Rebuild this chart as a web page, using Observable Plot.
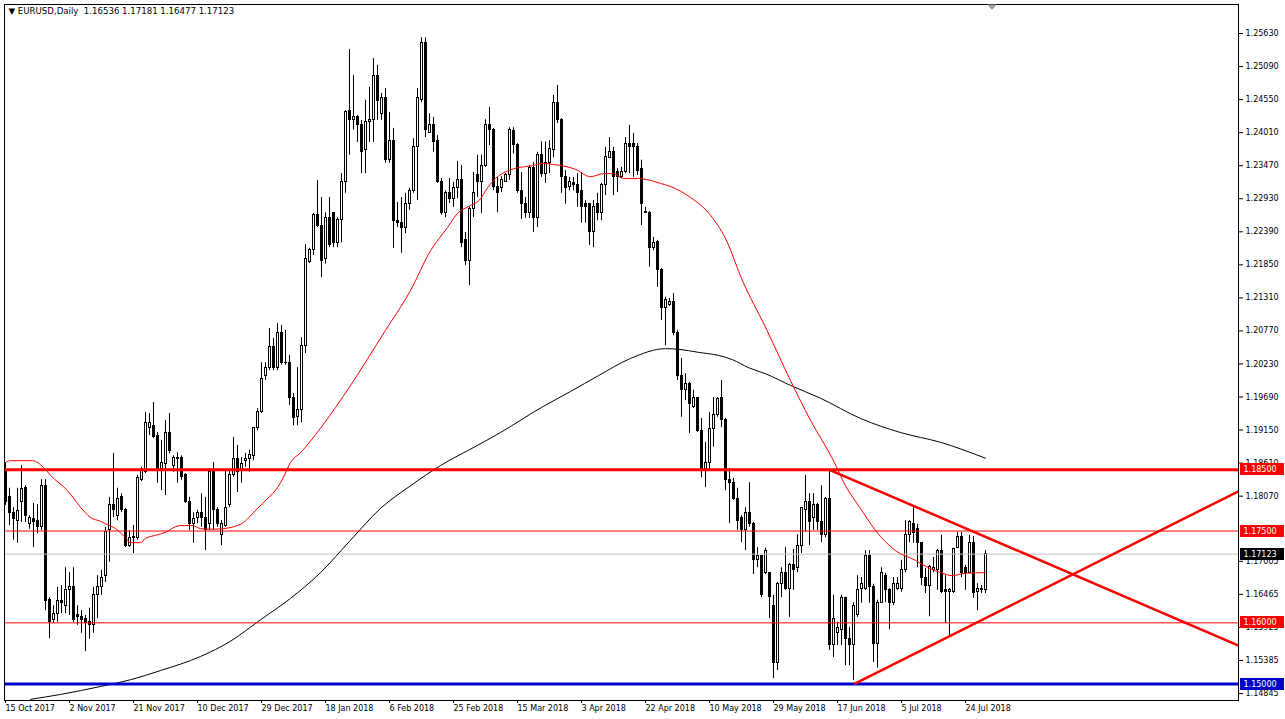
<!DOCTYPE html>
<html><head><meta charset="utf-8">
<script src="https://cdn.jsdelivr.net/npm/d3@7"></script>
<script src="https://cdn.jsdelivr.net/npm/@observablehq/plot@0.6"></script>
<style>
html,body{margin:0;padding:0;background:#fff;}
#chart{width:1285px;height:719px;overflow:hidden;}
</style></head><body><div id="chart"></div>
<script>
// ---- Data: EURUSD Daily OHLC (one bar per trading day) ----
const opens = [1.1849,1.1805,1.1779,1.1767,1.1798,1.1820,1.1762,1.1769,1.1766,1.1756,
1.1824,1.1638,1.1604,1.1614,1.1635,1.1628,1.1654,1.1658,1.1612,1.1609,
1.1607,1.1601,1.1596,1.1645,1.1659,1.1677,1.1751,1.1792,1.1775,1.1805,
1.1784,1.1726,1.1738,1.1739,1.1833,1.1846,1.1919,1.1922,1.1905,1.1852,
1.1860,1.1911,1.1857,1.1868,1.1870,1.1841,1.1797,1.1762,1.1771,1.1779,
1.1772,1.1762,1.1846,1.1784,1.1743,1.1759,1.1792,1.1841,1.1867,1.1849,
1.1864,1.1867,1.1873,1.1918,1.1944,1.2003,1.2017,1.2050,1.2017,1.2073,
1.2025,1.2025,1.1968,1.1936,1.1947,1.2053,1.2190,1.2210,1.2266,1.2249,
1.2195,1.2262,1.2269,1.2221,1.2259,1.2320,1.2436,1.2421,1.2426,1.2413,
1.2372,1.2419,1.2421,1.2493,1.2432,1.2458,1.2356,1.2387,1.2257,1.2253,
1.2246,1.2285,1.2305,1.2377,1.2454,1.2548,1.2400,1.2414,1.2387,1.2321,
1.2270,1.2302,1.2293,1.2311,1.2323,1.2225,1.2192,1.2277,1.2331,1.2320,
1.2346,1.2414,1.2406,1.2313,1.2311,1.2321,1.2331,1.2403,1.2380,1.2306,
1.2285,1.2269,1.2344,1.2262,1.2364,1.2334,1.2351,1.2372,1.2450,1.2421,
1.2328,1.2313,1.2318,1.2316,1.2305,1.2284,1.2284,1.2239,1.2284,1.2270,
1.2315,1.2360,1.2369,1.2336,1.2329,1.2336,1.2382,1.2382,1.2377,1.2341,
1.2272,1.2270,1.2213,1.2222,1.2176,1.2114,1.2120,1.2125,1.2074,1.2004,
1.1980,1.1991,1.1953,1.1967,1.1914,1.1852,1.1862,1.1917,1.1939,1.1967,
1.1932,1.1833,1.1828,1.1803,1.1771,1.1751,1.1780,1.1762,1.1703,1.1709,
1.1682,1.1681,1.1628,1.1534,1.1664,1.1681,1.1656,1.1694,1.1690,1.1725,
1.1785,1.1797,1.1772,1.1792,1.1764,1.1744,1.1803,1.1563,1.1584,1.1588,
1.1640,1.1574,1.1564,1.1612,1.1656,1.1656,1.1710,1.1659,1.1566,1.1633,
1.1677,1.1653,1.1632,1.1656,1.1656,1.1686,1.1743,1.1762,1.1753,1.1730,
1.1674,1.1661,1.1686,1.1686,1.1717,1.1653,1.1650,1.1650,1.1723,1.1741,
1.1689,1.1682,1.1731,1.1650,1.1653,1.16536];
const highs = [1.1862,1.1820,1.1788,1.1820,1.1857,1.1824,1.1775,1.1795,1.1793,1.1834,
1.1834,1.1641,1.1628,1.1658,1.1661,1.1690,1.1682,1.1690,1.1628,1.1620,
1.1612,1.1624,1.1658,1.1677,1.1686,1.1756,1.1805,1.1877,1.1820,1.1811,
1.1787,1.1751,1.1759,1.1841,1.1854,1.1944,1.1942,1.1960,1.1911,1.1898,
1.1931,1.1942,1.1873,1.1878,1.1873,1.1844,1.1805,1.1780,1.1784,1.1811,
1.1805,1.1852,1.1862,1.1788,1.1767,1.1849,1.1849,1.1903,1.1890,1.1870,
1.1877,1.1882,1.1919,1.1950,1.2025,1.2025,1.2081,1.2065,1.2089,1.2086,
1.2078,1.2037,1.1975,1.2017,1.2066,1.2218,1.2212,1.2269,1.2323,1.2295,
1.2270,1.2295,1.2270,1.2262,1.2334,1.2437,1.2537,1.2494,1.2429,1.2421,
1.2454,1.2475,1.2522,1.2511,1.2465,1.2473,1.2434,1.2408,1.2287,1.2295,
1.2302,1.2310,1.2391,1.2473,1.2556,1.2556,1.2432,1.2426,1.2396,1.2326,
1.2306,1.2326,1.2320,1.2354,1.2347,1.2238,1.2279,1.2336,1.2364,1.2364,
1.2422,1.2442,1.2408,1.2328,1.2329,1.2334,1.2409,1.2409,1.2383,1.2336,
1.2295,1.2347,1.2352,1.2369,1.2386,1.2386,1.2388,1.2462,1.2478,1.2424,
1.2339,1.2328,1.2328,1.2334,1.2336,1.2290,1.2285,1.2290,1.2302,1.2318,
1.2377,1.2393,1.2377,1.2342,1.2344,1.2393,1.2413,1.2400,1.2383,1.2356,
1.2279,1.2272,1.2230,1.2225,1.2179,1.2132,1.2130,1.2138,1.2078,1.2032,
1.2007,1.1993,1.1980,1.1968,1.1934,1.1895,1.1944,1.1968,1.1968,1.1996,
1.1934,1.1852,1.1836,1.1820,1.1775,1.1788,1.1829,1.1764,1.1723,1.1710,
1.1722,1.1682,1.1645,1.1666,1.1690,1.1723,1.1697,1.1720,1.1744,1.1788,
1.1841,1.1811,1.1811,1.1795,1.1824,1.1805,1.1850,1.1645,1.1601,1.1645,
1.1642,1.1592,1.1633,1.1677,1.1674,1.1718,1.1718,1.1663,1.1637,1.1690,
1.1681,1.1656,1.1674,1.1674,1.1702,1.1767,1.1767,1.1788,1.1761,1.1731,
1.1689,1.1694,1.1707,1.1720,1.1743,1.1677,1.1656,1.1722,1.1748,1.1748,
1.1694,1.1743,1.1741,1.1664,1.1661,1.17181];
const lows = [1.1792,1.1759,1.1735,1.1730,1.1764,1.1764,1.1753,1.1723,1.1746,1.1751,
1.1620,1.1574,1.1599,1.1601,1.1615,1.1615,1.1612,1.1601,1.1596,1.1583,
1.1553,1.1573,1.1583,1.1607,1.1645,1.1666,1.1699,1.1772,1.1767,1.1780,
1.1723,1.1723,1.1713,1.1735,1.1831,1.1844,1.1906,1.1901,1.1828,1.1816,
1.1808,1.1876,1.1846,1.1828,1.1833,1.1795,1.1751,1.1730,1.1762,1.1756,
1.1718,1.1751,1.1751,1.1756,1.1726,1.1756,1.1788,1.1838,1.1813,1.1828,
1.1854,1.1846,1.1865,1.1914,1.1942,1.1996,1.2012,1.2012,1.2012,1.2021,
1.2021,1.1955,1.1922,1.1922,1.1927,1.2040,1.2187,1.2200,1.2246,1.2164,
1.2186,1.2213,1.2213,1.2213,1.2221,1.2302,1.2364,1.2405,1.2385,1.2334,
1.2334,1.2385,1.2385,1.2421,1.2421,1.2351,1.2351,1.2212,1.2246,1.2204,
1.2236,1.2274,1.2302,1.2290,1.2450,1.2393,1.2400,1.2369,1.2318,1.2266,
1.2262,1.2285,1.2279,1.2293,1.2213,1.2184,1.2151,1.2262,1.2295,1.2269,
1.2344,1.2380,1.2306,1.2270,1.2303,1.2320,1.2323,1.2366,1.2302,1.2259,
1.2261,1.2261,1.2238,1.2246,1.2328,1.2318,1.2334,1.2360,1.2416,1.2302,
1.2284,1.2306,1.2306,1.2279,1.2253,1.2253,1.2217,1.2213,1.2257,1.2257,
1.2298,1.2359,1.2298,1.2303,1.2326,1.2334,1.2334,1.2328,1.2331,1.2249,
1.2269,1.2181,1.2208,1.2148,1.2094,1.2053,1.2117,1.2069,1.1996,1.1936,
1.1963,1.1909,1.1950,1.1911,1.1837,1.1821,1.1849,1.1887,1.1936,1.1919,
1.1816,1.1762,1.1800,1.1751,1.1731,1.1718,1.1756,1.1679,1.1690,1.1641,
1.1679,1.1607,1.1509,1.1522,1.1641,1.1653,1.1609,1.1653,1.1682,1.1713,
1.1748,1.1726,1.1751,1.1751,1.1731,1.1739,1.1555,1.1543,1.1563,1.1563,
1.1530,1.1530,1.1506,1.1609,1.1632,1.1653,1.1632,1.1535,1.1526,1.1632,
1.1633,1.1589,1.1628,1.1653,1.1650,1.1682,1.1731,1.1730,1.1690,1.1661,
1.1648,1.1610,1.1682,1.1653,1.1648,1.1599,1.1579,1.1648,1.1722,1.1674,
1.1653,1.1681,1.1640,1.1620,1.1648,1.16477];
const closes = [1.1797,1.1779,1.1769,1.1782,1.1818,1.1775,1.1771,1.1764,1.1756,1.1824,
1.1636,1.1601,1.1614,1.1635,1.1632,1.1654,1.1658,1.1605,1.1609,1.1605,
1.1599,1.1596,1.1645,1.1659,1.1673,1.1748,1.1792,1.1784,1.1803,1.1784,
1.1726,1.1738,1.1741,1.1836,1.1849,1.1926,1.1926,1.1903,1.1852,1.1862,
1.1911,1.1880,1.1870,1.1870,1.1838,1.1797,1.1762,1.1769,1.1779,1.1771,
1.1751,1.1847,1.1784,1.1762,1.1762,1.1788,1.1841,1.1867,1.1847,1.1859,
1.1868,1.1874,1.1918,1.1944,1.1999,1.2017,1.2050,1.2017,1.2073,1.2025,
1.2024,1.1967,1.1934,1.1947,1.2053,1.2194,1.2210,1.2266,1.2249,1.2192,
1.2262,1.2218,1.2221,1.2259,1.2320,1.2434,1.2421,1.2426,1.2413,1.2369,
1.2419,1.2421,1.2493,1.2452,1.2458,1.2356,1.2388,1.2256,1.2253,1.2246,
1.2285,1.2305,1.2377,1.2457,1.2548,1.2406,1.2414,1.2385,1.2320,1.2270,
1.2302,1.2293,1.2311,1.2323,1.2221,1.2192,1.2277,1.2302,1.2320,1.2346,
1.2414,1.2405,1.2313,1.2302,1.2323,1.2331,1.2405,1.2380,1.2305,1.2285,
1.2269,1.2344,1.2262,1.2364,1.2334,1.2351,1.2374,1.2450,1.2421,1.2328,
1.2311,1.2320,1.2316,1.2303,1.2280,1.2280,1.2239,1.2279,1.2270,1.2315,
1.2362,1.2369,1.2328,1.2328,1.2337,1.2382,1.2378,1.2377,1.2339,1.2285,
1.2270,1.2213,1.2221,1.2176,1.2115,1.2127,1.2125,1.2074,1.2004,1.1980,
1.1991,1.1958,1.1967,1.1914,1.1852,1.1862,1.1917,1.1939,1.1965,1.1932,
1.1833,1.1828,1.1803,1.1767,1.1751,1.1780,1.1762,1.1703,1.1710,1.1645,
1.1717,1.1643,1.1534,1.1664,1.1681,1.1656,1.1694,1.1687,1.1725,1.1787,
1.1797,1.1764,1.1792,1.1764,1.1743,1.1803,1.1563,1.1607,1.1591,1.1640,
1.1574,1.1564,1.1628,1.1654,1.1663,1.1710,1.1658,1.1566,1.1633,1.1681,
1.1653,1.1632,1.1664,1.1664,1.1687,1.1743,1.1764,1.1746,1.1730,1.1674,
1.1661,1.1692,1.1690,1.1717,1.1650,1.1650,1.1653,1.1720,1.1741,1.1682,
1.1682,1.1731,1.1648,1.1655,1.1655,1.17123];

// Moving averages at sample bars
const maRedBars = [0,1.25,6.75,9.5,11.25,15.5,18.75,21.25,23.75,25,27.5,30,31.25,33.75,35,37.5,40,42.5,43.75,46.75,48.75,51.25,54.5,57,59.5,61.25,63,65.5,68,69.5,71.25,73.75,78.75,86.25,95,101.25,106.25,110.5,113,116.25,118.75,120,122.5,125.75,128.25,131.75,134.25,136.75,139.25,142.5,146.25,149.5,152,154.5,158,161.25,163.75,166.25,171.25,176.25,180,184.25,190,196.25,201.25,207,210,213.75,217.5,222.5,227.5,230.75,234.25,236.75,240,245];
const maRedVals = [1.1862,1.1865,1.1865,1.1854,1.1841,1.1816,1.1789,1.1772,1.1766,1.1762,1.1754,1.1739,1.1731,1.1731,1.1738,1.1743,1.1748,1.1757,1.1759,1.1759,1.1754,1.1753,1.1754,1.1757,1.1764,1.1775,1.1787,1.1803,1.1821,1.1838,1.1862,1.1878,1.1918,1.1988,1.2078,1.2143,1.2208,1.2246,1.2269,1.2282,1.2293,1.2306,1.2326,1.2339,1.2344,1.2347,1.2351,1.2349,1.2347,1.2341,1.2329,1.2334,1.2334,1.2326,1.2326,1.2323,1.2318,1.2313,1.2295,1.2266,1.2228,1.2159,1.2083,1.1996,1.1931,1.1865,1.1824,1.1787,1.1751,1.1718,1.1702,1.1690,1.1681,1.1677,1.1681,1.1682];
const maBlackBars = [6.25,13.75,23.75,31.25,38.75,48.75,56.25,63.75,71.25,78.75,86.25,93.75,101.25,108.75,118,123.75,134,141.25,148.25,156.25,165,168.25,173.25,178.25,181.75,185.75,190,196.25,203.75,213.75,223.75,233.75,245];
const maBlackVals = [1.1475,1.1483,1.1496,1.1507,1.1522,1.1545,1.1570,1.1605,1.1640,1.1682,1.1735,1.1787,1.1824,1.1857,1.1890,1.1911,1.1952,1.1978,1.2004,1.2032,1.2048,1.2047,1.2042,1.2037,1.2030,1.2017,1.2007,1.1988,1.1967,1.1934,1.1911,1.1895,1.1869];

// Drawn objects
const levelPrices = [1.1850, 1.1750, 1.1600, 1.1500];
const levelColors = ["#ff0000", "#ff0000", "#ff0000", "#0000c8"];
const levelWidths = [3, 1, 1, 3];
const bidPrice = 1.17123;
const trendUpperBars = [206, 308.25];
const trendUpperVals = [1.1850, 1.1563];
const trendLowerBars = [212.5, 308.25];
const trendLowerVals = [1.1501, 1.1815];

// Axes
const yTicks = [1.25630,1.25090,1.24550,1.24010,1.23470,1.22930,1.22390,1.21850,1.21310,1.20770,1.20230,1.19690,1.19150,1.18610,1.18070,1.17005,1.16465,1.15925,1.15385,1.14845];
const xLabels = ["15 Oct 2017","2 Nov 2017","21 Nov 2017","10 Dec 2017","29 Dec 2017","18 Jan 2018","6 Feb 2018","25 Feb 2018","15 Mar 2018","3 Apr 2018","22 Apr 2018","10 May 2018","29 May 2018","17 Jun 2018","5 Jul 2018","24 Jul 2018"];
const xLabelBars = xLabels.map((_, k) => k * 16);
const headerText = "\u25BC EURUSD,Daily  1.16536 1.17181 1.16477 1.17123";

// ---- Build ----
const candles = opens.map((o, i) => ({i, o, h: highs[i], l: lows[i], c: closes[i]}));
const maRed = maRedBars.map((b, k) => ({b, v: maRedVals[k]}));
const maBlack = maBlackBars.map((b, k) => ({b, v: maBlackVals[k]}));
const levels = levelPrices.map((v, k) => ({v, color: levelColors[k], w: levelWidths[k]}));
const tUp = trendUpperBars.map((b, k) => ({b, v: trendUpperVals[k]}));
const tLo = trendLowerBars.map((b, k) => ({b, v: trendLowerVals[k]}));

const W = 1285, H = 719;
const plot = Plot.plot({
  width: W, height: H,
  marginLeft: 4, marginRight: 47, marginTop: 4, marginBottom: 19,
  style: {fontFamily: "'DejaVu Sans', sans-serif", fontSize: "8px", background: "white", color: "black", overflow: "visible"},
  x: {domain: [-0.25, 308.25], axis: null},
  y: {domain: [1.14731, 1.26104], axis: null},
  marks: [
    Plot.ruleX(candles, {x: "i", y1: "l", y2: "h", stroke: "black", strokeWidth: 1}),
    Plot.rect(candles, {
      x1: d => d.i - 0.25, x2: d => d.i + 0.25,
      y1: d => Math.min(d.o, d.c), y2: d => Math.max(d.o, d.c),
      fill: d => d.c >= d.o ? "white" : "black", stroke: "black", strokeWidth: 1,
      shapeRendering: "crispEdges"
    }),
    Plot.ruleY([bidPrice], {stroke: "#c0c0c0", strokeWidth: 1}),
    Plot.line(maBlack, {x: "b", y: "v", stroke: "black", strokeWidth: 1, curve: "monotone-x"}),
    Plot.line(maRed, {x: "b", y: "v", stroke: "red", strokeWidth: 1, curve: "monotone-x"}),
    Plot.ruleY(levels, {y: "v", stroke: "color", strokeWidth: "w"}),
    Plot.line(tUp, {x: "b", y: "v", stroke: "red", strokeWidth: 2.5, clip: true}),
    Plot.line(tLo, {x: "b", y: "v", stroke: "red", strokeWidth: 2.5, clip: true}),
    Plot.frame({stroke: "black"}),
    Plot.axisY({anchor: "right", ticks: yTicks, tickFormat: d => d.toFixed(5), tickSize: 4, tickPadding: 3, fontSize: 8}),
    Plot.axisX({ticks: xLabelBars, tickFormat: d => xLabels[d / 16], tickSize: 3, tickPadding: 2, textAnchor: "start", dx: 0, fontSize: 8}),
    Plot.text([headerText], {frameAnchor: "top-left", dx: 4, dy: 3, fontSize: 8.6, fill: "black"})
  ]
});
document.getElementById("chart").appendChild(plot);

// Price boxes on the price scale, positioned with Plot's y scale
const ys = plot.scale("y");
const xs = plot.scale("x");
const svg = d3.select(plot);
const boxes = [
  {v: 1.1850, bg: "#ff0000"}, {v: 1.1750, bg: "#ff0000"}, {v: bidPrice, bg: "#000000"},
  {v: 1.1600, bg: "#ff0000"}, {v: 1.1500, bg: "#0000c8"}
];
const axisX0 = xs.apply(308.25);
const g = svg.append("g").attr("text-anchor", "start");
boxes.forEach(b => {
  const y = Math.round(ys.apply(b.v));
  g.append("rect").attr("x", axisX0 + 2).attr("y", y - 6).attr("width", 44).attr("height", 12).attr("fill", b.bg);
  g.append("text").attr("x", axisX0 + 5.5).attr("y", y).attr("dy", "0.35em").attr("text-anchor", "start")
    .attr("fill", "white").attr("font-size", 8).attr("font-family", "'DejaVu Sans', sans-serif").text(b.v.toFixed(5));
});
// chart shift marker
const sx = xs.apply(opens.length - 1) + 7;
g.append("path").attr("d", `M${sx - 5},4.5 L${sx + 5},4.5 L${sx},10 Z`).attr("fill", "#a0a0a0");
</script></body></html>
